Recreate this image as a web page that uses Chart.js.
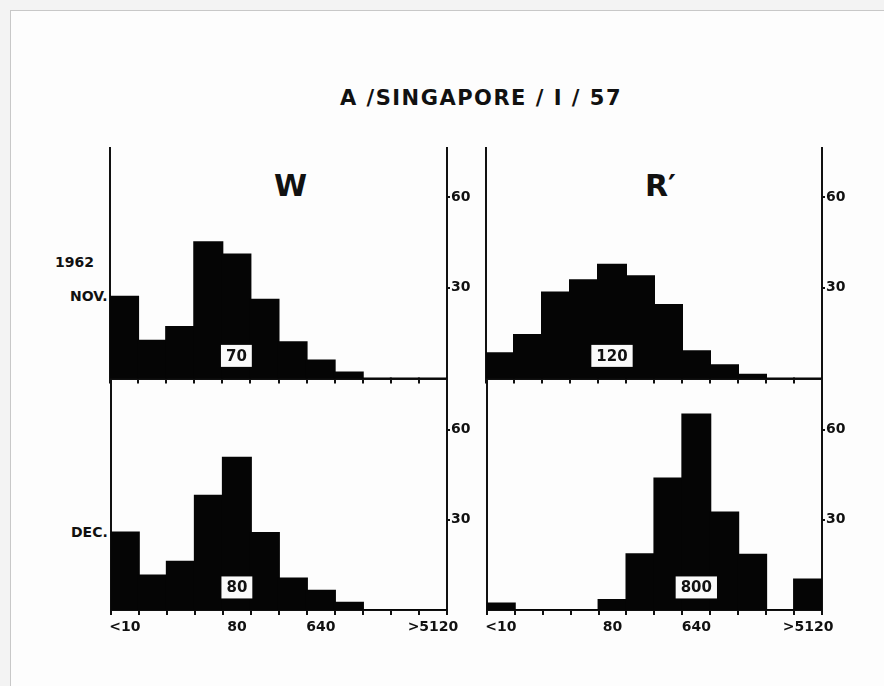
<!DOCTYPE html>
<html>
<head>
<meta charset="utf-8">
<script src="https://cdn.jsdelivr.net/npm/chart.js@4.4.0/dist/chart.umd.min.js"></script>
<style>
    html, body { margin: 0; padding: 0; }
    body { width: 884px; height: 686px; background: #f3f3f3; position: relative; overflow: hidden;
           font-family: "DejaVu Sans", sans-serif; font-weight: bold; color: #111; }
    #sheet { position: absolute; left: 10px; top: 10px; width: 880px; height: 680px;
             background: #fdfdfd; border-left: 1px solid #c8c8c8; border-top: 1px solid #c8c8c8; }
    canvas { position: absolute; }
    .txt { position: absolute; white-space: nowrap; }
</style>
</head>
<body>
<div id="sheet"></div>
<div class="txt" style="left:0; width:962px; top:86px; text-align:center; font-size:21px; letter-spacing:1.5px;">A /SINGAPORE / I / 57</div>
<div class="txt" style="left:274px; top:168px; font-size:30px;">W</div>
<div class="txt" style="left:645px; top:168px; font-size:30px;">R′</div>
<div class="txt" style="left:55px; top:254px; font-size:14px;">1962</div>
<div class="txt" style="left:70px; top:288px; font-size:14px;">NOV.</div>
<div class="txt" style="left:71px; top:524px; font-size:14px;">DEC.</div>

<canvas id="wNov" width="382" height="249" style="left:105px; top:139px;"></canvas>
<canvas id="rNov" width="381" height="249" style="left:481px; top:139px;"></canvas>
<canvas id="wDec" width="382" height="270" style="left:105px; top:372px;"></canvas>
<canvas id="rDec" width="381" height="270" style="left:481px; top:372px;"></canvas>

<script>
// titre bins (reciprocal HI titres)
const bins = ['<10', '10', '20', '40', '80', '160', '320', '640', '1280', '2560', '5120', '>5120'];
const shownBins = ['<10', '80', '640', '>5120'];
const yTicks = [30, 60];
const yMax = 76;

// number of sera per titre bin
const wNov = [27, 12.5, 17, 45, 41, 26, 12, 6, 2, 0, 0, 0];
const rNov = [8.4, 14.4, 28.4, 32.5, 37.6, 33.8, 24.3, 9, 4.4, 1.3, 0, 0];
const wDec = [25.8, 11.5, 16, 38, 50.6, 25.6, 10.5, 6.4, 2.4, 0, 0, 0];
const rDec = [2.2, 0, 0, 0, 3.3, 18.5, 43.7, 65, 32.4, 18.4, 0, 10.1];

// geometric mean titres, boxed inside each histogram
const meanTitres = ['70', '120', '80', '800'];
const meanBins = ['80', '80', '80', '640'];
const meanBoxLevel = 7.5;

const boldFont = {family: 'DejaVu Sans', weight: 'bold', size: 14};

const meanBox = {
    id: 'meanBox',
    afterDatasetsDraw(chart, args, opts) {
        let ctx = chart.ctx;
        let x = chart.scales.x.getPixelForValue(bins.indexOf(opts.bin));
        let y = chart.scales.y.getPixelForValue(meanBoxLevel);
        ctx.save();
        ctx.font = 'bold 15px "DejaVu Sans"';
        let w = ctx.measureText(opts.text).width + 10;
        let h = 22;
        ctx.fillStyle = '#fafafa';
        ctx.fillRect(x - w / 2, y - h / 2, w, h);
        ctx.fillStyle = '#111';
        ctx.textAlign = 'center';
        ctx.textBaseline = 'middle';
        ctx.fillText(opts.text, x, y + 1);
        ctx.restore();
    }
};

function makePanel(id, values, meanIdx, showLabels) {
    return new Chart(document.getElementById(id), {
        type: 'bar',
        data: {
            labels: bins,
            datasets: [{
                data: values,
                backgroundColor: '#050505',
                borderWidth: 0,
                inflateAmount: 1,
                barPercentage: 1,
                categoryPercentage: 1,
            }]
        },
        plugins: [meanBox],
        options: {
            responsive: false,
            animation: false,
            layout: {padding: {left: 5, top: 8, right: 0, bottom: 0}},
            plugins: {
                legend: {display: false},
                tooltip: {enabled: false},
                meanBox: {text: meanTitres[meanIdx], bin: meanBins[meanIdx]},
            },
            scales: {
                x: {
                    grid: {drawOnChartArea: false, drawTicks: true, tickLength: 5, color: '#111', lineWidth: 2},
                    border: {display: true, color: '#111', width: 2},
                    ticks: {
                        display: showLabels,
                        autoSkip: false,
                        maxRotation: 0,
                        padding: 4,
                        color: '#111',
                        font: boldFont,
                        callback: (v, i) => shownBins.includes(bins[i]) ? bins[i] : '',
                    },
                    afterFit: scale => { scale.height = showLabels ? 32 : 8; },
                },
                y: {
                    position: 'right',
                    min: 0,
                    max: yMax,
                    grid: {drawOnChartArea: false, drawTicks: true, tickLength: 3, color: '#111', lineWidth: 2},
                    border: {display: true, color: '#111', width: 2},
                    ticks: {color: '#111', font: boldFont, padding: 1},
                    afterBuildTicks: scale => { scale.ticks = yTicks.map(v => ({value: v})); },
                    afterFit: scale => { scale.width = 40; },
                },
                yl: {
                    position: 'left',
                    min: 0,
                    max: yMax,
                    grid: {display: false},
                    border: {display: true, color: '#111', width: 2},
                    ticks: {display: false},
                    afterFit: scale => { scale.width = 0; },
                },
            }
        }
    });
}

makePanel('wNov', wNov, 0, false);
makePanel('rNov', rNov, 1, false);
makePanel('wDec', wDec, 2, true);
makePanel('rDec', rDec, 3, true);
</script>
</body>
</html>
